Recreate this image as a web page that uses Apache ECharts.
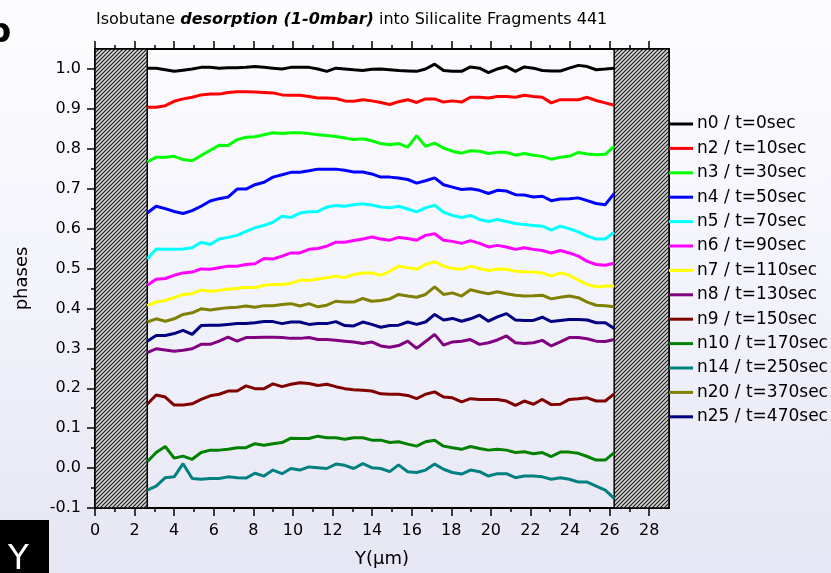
<!DOCTYPE html>
<html>
<head>
<meta charset="utf-8">
<script src="https://cdn.jsdelivr.net/npm/echarts@6/dist/echarts.min.js"></script>
<style>
  html, body { margin: 0; padding: 0; }
  body { width: 831px; height: 573px; background: linear-gradient(to bottom, #fdfdff 0%, #f3f3fb 50%, #e6e6f4 100%); }
  #chart { width: 831px; height: 573px; }
</style>
</head>
<body>
<div id="chart"></div>
<script>
// Sampling positions along Y (µm)
const positions = [2.64, 3.09, 3.55, 4.00, 4.45, 4.91, 5.36, 5.82, 6.27, 6.72, 7.18, 7.63, 8.08, 8.54, 8.99, 9.45, 9.90, 10.35, 10.81, 11.26, 11.71, 12.17, 12.62, 13.07, 13.53, 13.98, 14.44, 14.89, 15.34, 15.80, 16.25, 16.70, 17.16, 17.61, 18.06, 18.52, 18.97, 19.43, 19.88, 20.33, 20.79, 21.24, 21.69, 22.15, 22.60, 23.05, 23.51, 23.96, 24.42, 24.87, 25.32, 25.78, 26.23];

const seriesNames = ['n0 / t=0sec', 'n2 / t=10sec', 'n3 / t=30sec', 'n4 / t=50sec', 'n5 / t=70sec', 'n6 / t=90sec', 'n7 / t=110sec', 'n8 / t=130sec', 'n9 / t=150sec', 'n10 / t=170sec', 'n14 / t=250sec', 'n20 / t=370sec', 'n25 / t=470sec'];

const n0 = [1.002, 1.002, 0.998, 0.994, 0.997, 1.000, 1.004, 1.004, 1.002, 1.003, 1.003, 1.004, 1.006, 1.004, 1.002, 1.000, 1.004, 1.004, 1.004, 1.000, 0.994, 1.002, 1.000, 0.998, 0.996, 0.999, 1.000, 0.998, 0.996, 0.995, 0.994, 1.000, 1.012, 0.996, 0.994, 0.994, 1.005, 1.002, 0.991, 1.000, 1.006, 0.994, 1.005, 1.002, 0.996, 0.995, 0.995, 1.002, 1.009, 1.006, 0.998, 1.000, 1.002];
const n2 = [0.904, 0.904, 0.908, 0.919, 0.925, 0.929, 0.935, 0.937, 0.937, 0.941, 0.943, 0.943, 0.942, 0.941, 0.940, 0.935, 0.934, 0.934, 0.931, 0.927, 0.927, 0.926, 0.920, 0.919, 0.923, 0.920, 0.916, 0.911, 0.918, 0.923, 0.916, 0.925, 0.925, 0.917, 0.920, 0.917, 0.929, 0.929, 0.927, 0.931, 0.931, 0.929, 0.934, 0.931, 0.929, 0.915, 0.923, 0.923, 0.923, 0.929, 0.921, 0.915, 0.909];
const n3 = [0.767, 0.779, 0.779, 0.781, 0.773, 0.770, 0.783, 0.796, 0.809, 0.808, 0.823, 0.829, 0.830, 0.835, 0.840, 0.838, 0.840, 0.840, 0.838, 0.835, 0.833, 0.831, 0.827, 0.823, 0.825, 0.820, 0.813, 0.810, 0.813, 0.804, 0.833, 0.806, 0.814, 0.802, 0.794, 0.789, 0.795, 0.794, 0.788, 0.791, 0.791, 0.784, 0.788, 0.784, 0.781, 0.774, 0.779, 0.781, 0.791, 0.787, 0.785, 0.786, 0.806];
const n4 = [0.639, 0.656, 0.650, 0.643, 0.638, 0.645, 0.656, 0.669, 0.675, 0.679, 0.699, 0.699, 0.710, 0.716, 0.729, 0.735, 0.741, 0.741, 0.745, 0.749, 0.749, 0.749, 0.746, 0.742, 0.742, 0.737, 0.729, 0.729, 0.727, 0.723, 0.714, 0.720, 0.727, 0.710, 0.704, 0.698, 0.700, 0.696, 0.688, 0.696, 0.694, 0.685, 0.684, 0.679, 0.681, 0.670, 0.674, 0.675, 0.677, 0.670, 0.663, 0.660, 0.688];
const n5 = [0.524, 0.549, 0.548, 0.548, 0.549, 0.552, 0.566, 0.560, 0.574, 0.578, 0.583, 0.593, 0.602, 0.608, 0.616, 0.631, 0.628, 0.639, 0.642, 0.643, 0.654, 0.658, 0.656, 0.660, 0.662, 0.659, 0.654, 0.652, 0.656, 0.649, 0.642, 0.652, 0.659, 0.641, 0.633, 0.628, 0.633, 0.623, 0.618, 0.623, 0.618, 0.613, 0.610, 0.608, 0.606, 0.596, 0.606, 0.600, 0.592, 0.581, 0.574, 0.574, 0.591];
const n6 = [0.458, 0.473, 0.475, 0.483, 0.489, 0.491, 0.499, 0.498, 0.502, 0.506, 0.506, 0.510, 0.512, 0.525, 0.524, 0.531, 0.539, 0.539, 0.548, 0.550, 0.556, 0.566, 0.566, 0.570, 0.574, 0.579, 0.574, 0.571, 0.578, 0.575, 0.571, 0.583, 0.587, 0.571, 0.568, 0.563, 0.570, 0.563, 0.554, 0.558, 0.554, 0.548, 0.552, 0.548, 0.545, 0.539, 0.545, 0.539, 0.531, 0.518, 0.510, 0.508, 0.513];
const n7 = [0.407, 0.416, 0.420, 0.427, 0.435, 0.437, 0.446, 0.443, 0.445, 0.449, 0.450, 0.453, 0.452, 0.458, 0.460, 0.460, 0.463, 0.471, 0.470, 0.474, 0.477, 0.481, 0.477, 0.485, 0.489, 0.489, 0.483, 0.493, 0.506, 0.502, 0.498, 0.510, 0.517, 0.506, 0.500, 0.498, 0.506, 0.500, 0.495, 0.499, 0.498, 0.493, 0.492, 0.491, 0.489, 0.481, 0.489, 0.483, 0.471, 0.460, 0.454, 0.456, 0.456];
const n8 = [0.289, 0.299, 0.296, 0.293, 0.295, 0.299, 0.310, 0.310, 0.318, 0.328, 0.318, 0.327, 0.327, 0.328, 0.328, 0.327, 0.325, 0.325, 0.327, 0.322, 0.322, 0.320, 0.318, 0.316, 0.312, 0.316, 0.306, 0.303, 0.307, 0.318, 0.300, 0.317, 0.335, 0.308, 0.316, 0.318, 0.322, 0.310, 0.314, 0.321, 0.331, 0.314, 0.312, 0.314, 0.320, 0.306, 0.316, 0.327, 0.327, 0.324, 0.318, 0.317, 0.322];
const n9 = [0.160, 0.183, 0.178, 0.158, 0.158, 0.161, 0.172, 0.181, 0.185, 0.193, 0.193, 0.206, 0.199, 0.199, 0.211, 0.204, 0.210, 0.214, 0.212, 0.207, 0.210, 0.204, 0.199, 0.196, 0.195, 0.193, 0.186, 0.185, 0.185, 0.182, 0.174, 0.185, 0.191, 0.178, 0.176, 0.166, 0.174, 0.172, 0.172, 0.172, 0.168, 0.157, 0.168, 0.160, 0.172, 0.159, 0.160, 0.172, 0.174, 0.176, 0.168, 0.168, 0.186];
const n10 = [0.016, 0.039, 0.054, 0.025, 0.030, 0.022, 0.039, 0.045, 0.045, 0.047, 0.051, 0.051, 0.061, 0.057, 0.061, 0.064, 0.075, 0.074, 0.074, 0.080, 0.076, 0.076, 0.072, 0.076, 0.076, 0.070, 0.070, 0.064, 0.066, 0.060, 0.055, 0.066, 0.070, 0.055, 0.051, 0.047, 0.054, 0.049, 0.045, 0.047, 0.045, 0.039, 0.041, 0.036, 0.039, 0.029, 0.040, 0.040, 0.037, 0.029, 0.020, 0.020, 0.039];
const n14 = [-0.055, -0.045, -0.024, -0.022, 0.011, -0.026, -0.028, -0.026, -0.026, -0.022, -0.024, -0.025, -0.013, -0.020, -0.005, -0.014, -0.001, -0.005, 0.003, 0.001, -0.001, 0.010, 0.007, -0.001, 0.011, 0.001, -0.001, -0.009, 0.008, -0.009, -0.011, -0.005, 0.010, -0.003, -0.011, -0.015, -0.005, -0.009, -0.020, -0.014, -0.014, -0.024, -0.020, -0.020, -0.022, -0.028, -0.024, -0.028, -0.035, -0.035, -0.045, -0.055, -0.076];
const n20 = [0.366, 0.374, 0.368, 0.374, 0.385, 0.389, 0.399, 0.396, 0.399, 0.402, 0.403, 0.406, 0.403, 0.407, 0.407, 0.410, 0.412, 0.406, 0.412, 0.404, 0.408, 0.418, 0.416, 0.416, 0.425, 0.418, 0.420, 0.424, 0.435, 0.431, 0.428, 0.435, 0.454, 0.435, 0.439, 0.431, 0.447, 0.441, 0.437, 0.442, 0.437, 0.433, 0.431, 0.432, 0.433, 0.424, 0.428, 0.431, 0.427, 0.416, 0.408, 0.407, 0.404];
const n25 = [0.318, 0.332, 0.332, 0.337, 0.345, 0.335, 0.357, 0.358, 0.358, 0.360, 0.362, 0.362, 0.364, 0.367, 0.367, 0.362, 0.366, 0.366, 0.360, 0.362, 0.362, 0.367, 0.357, 0.356, 0.366, 0.360, 0.353, 0.357, 0.358, 0.366, 0.360, 0.366, 0.385, 0.371, 0.375, 0.368, 0.374, 0.383, 0.368, 0.379, 0.387, 0.371, 0.370, 0.370, 0.378, 0.367, 0.370, 0.372, 0.372, 0.371, 0.364, 0.364, 0.350];

const allValues = [n0, n2, n3, n4, n5, n6, n7, n8, n9, n10, n14, n20, n25];
const colors = ['#000000', '#ff0000', '#00ff00', '#0000ff', '#00ffff', '#ff00ff', '#ffff00', '#800080', '#800000', '#008000', '#008080', '#808000', '#000080'];

// Wall (hatched) regions in µm
const wallLeft = [0, 2.64];
const wallRight = [26.23, 29];

const xTicks = [0, 2, 4, 6, 8, 10, 12, 14, 16, 18, 20, 22, 24, 26, 28];
const yTicks = [-0.1, 0.0, 0.1, 0.2, 0.3, 0.4, 0.5, 0.6, 0.7, 0.8, 0.9, 1.0];

// hatch pattern
function makeHatch() {
  const c = document.createElement('canvas');
  const s = 4;
  c.width = s; c.height = s;
  const g = c.getContext('2d');
  g.fillStyle = '#d4d4d4';
  g.fillRect(0, 0, s, s);
  g.strokeStyle = '#1a1a1a';
  g.lineWidth = 1.1;
  g.beginPath();
  g.moveTo(-1, s + 1); g.lineTo(s + 1, -1);
  g.moveTo(-1, 1); g.lineTo(1, -1);
  g.moveTo(s - 1, s + 1); g.lineTo(s + 1, s - 1);
  g.stroke();
  return c;
}
const hatch = { image: makeHatch(), repeat: 'repeat' };

const chart = echarts.init(document.getElementById('chart'), null, { renderer: 'canvas' });
const FONT = 'DejaVu Sans';

const series = allValues.map((vals, k) => ({
  name: seriesNames[k],
  type: 'line',
  data: positions.map((x, i) => [x, vals[i]]),
  showSymbol: false,
  symbol: 'none',
  lineStyle: { color: colors[k], width: 3 },
  itemStyle: { color: colors[k] },
  z: 3,
  animation: false
}));

series.push({
  name: 'walls',
  type: 'line',
  data: [],
  silent: true,
  markArea: {
    silent: true,
    itemStyle: { color: hatch, borderColor: '#000', borderWidth: 1.5, opacity: 1 },
    data: [
      [{ xAxis: wallLeft[0], yAxis: -0.1 }, { xAxis: wallLeft[1], yAxis: 1.05 }],
      [{ xAxis: wallRight[0], yAxis: -0.1 }, { xAxis: wallRight[1], yAxis: 1.05 }]
    ]
  },
  z: 2
});

const fmt1 = v => (Math.abs(v * 10 - Math.round(v * 10)) < 1e-6 ? (Math.abs(v) < 1e-9 ? '0.0' : v.toFixed(1)) : '');

chart.setOption({
  animation: false,
  backgroundColor: 'transparent',
  title: {
    text: '{n|Isobutane }{b|desorption (1-0mbar)}{n| into Silicalite Fragments 441}',
    left: 96,
    top: 12,
    padding: 0,
    textStyle: {
      fontWeight: 'normal',
      rich: {
        n: { fontFamily: 'DejaVu Sans', fontSize: 16, fontWeight: 'normal', color: '#000' },
        b: { fontFamily: 'DejaVu Sans', fontSize: 16, fontWeight: 'bold', fontStyle: 'italic', color: '#000' }
      }
    }
  },
  legend: {
    orient: 'vertical',
    left: 669,
    top: 114,
    padding: 0,
    itemGap: 4.4,
    itemWidth: 24,
    itemHeight: 3,
    icon: 'rect',
    data: seriesNames,
    textStyle: { fontFamily: FONT, fontSize: 17, color: '#000', lineHeight: 20, padding: [0, 0, 0, -1] }
  },
  grid: { left: 95, right: 162, top: 49, bottom: 64, containLabel: false, show: false },
  xAxis: [{
    type: 'value', min: 0, max: 29, interval: 2, position: 'bottom',
    name: 'Y(μm)', nameLocation: 'middle', nameGap: 42,
    nameTextStyle: { fontFamily: FONT, fontSize: 18, color: '#000' },
    axisLine: { show: true, onZero: false, lineStyle: { color: '#000', width: 2 } },
    axisTick: { show: true, inside: false, length: 8, lineStyle: { color: '#000', width: 1.5 }, customValues: xTicks },
    minorTick: { show: true, splitNumber: 2, length: 4, lineStyle: { color: '#000', width: 1.5 } },
    axisLabel: { fontFamily: FONT, fontSize: 16, color: '#000', margin: 15, customValues: xTicks },
    splitLine: { show: false }
  }, {
    type: 'value', min: 0, max: 29, interval: 2, position: 'top',
    axisLine: { show: true, onZero: false, lineStyle: { color: '#000', width: 2 } },
    axisTick: { show: true, inside: false, length: 8, lineStyle: { color: '#000', width: 1.5 }, customValues: xTicks },
    minorTick: { show: true, splitNumber: 2, length: 4, lineStyle: { color: '#000', width: 1.5 } },
    axisLabel: { show: false },
    splitLine: { show: false }
  }],
  yAxis: [{
    type: 'value', min: -0.1, max: 1.05, interval: 0.1, position: 'left',
    name: 'phases', nameLocation: 'middle', nameGap: 64, nameRotate: 90,
    nameTextStyle: { fontFamily: FONT, fontSize: 18, color: '#000' },
    axisLine: { show: true, onZero: false, lineStyle: { color: '#000', width: 2 } },
    axisTick: { show: true, inside: false, length: 8, lineStyle: { color: '#000', width: 1.5 }, customValues: yTicks },
    minorTick: { show: true, splitNumber: 2, length: 4, lineStyle: { color: '#000', width: 1.5 } },
    axisLabel: { fontFamily: FONT, fontSize: 16, color: '#000', margin: 14, formatter: fmt1, customValues: yTicks },
    splitLine: { show: false }
  }, {
    type: 'value', min: -0.1, max: 1.05, position: 'right',
    axisLine: { show: true, onZero: false, lineStyle: { color: '#000', width: 2 } },
    axisTick: { show: false }, axisLabel: { show: false }, splitLine: { show: false }
  }],
  graphic: [
    { type: 'text', left: -13, top: 16, style: { text: 'b', fontFamily: FONT, fontSize: 34, fontWeight: 'bold', fill: '#000' } },
    { type: 'rect', shape: { x: 0, y: 520, width: 49, height: 53 }, style: { fill: '#000' } },
    { type: 'text', x: 8, y: 543, style: { text: 'Y', fontFamily: FONT, fontSize: 34, fill: '#fff' } }
  ],
  series: series
});
</script>
</body>
</html>
